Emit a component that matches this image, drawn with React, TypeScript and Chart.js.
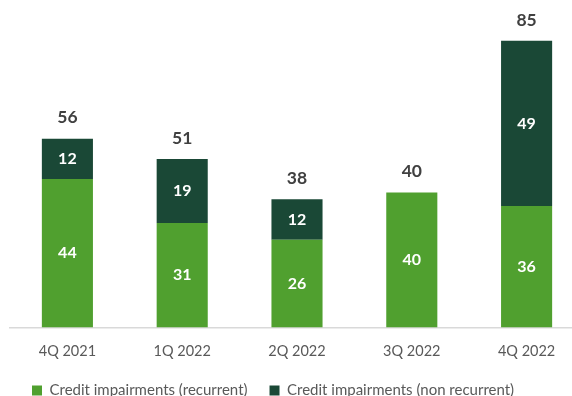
import React, { useEffect, useRef } from "react";
import { Chart, registerables } from "chart.js";

Chart.register(...registerables);

const categories = ["4Q 2021", "1Q 2022", "2Q 2022", "3Q 2022", "4Q 2022"];
const recurrent = [44, 31, 26, 40, 36];
const nonRecurrent = [12, 19, 12, 0, 49];
const totals = [56, 51, 38, 40, 85];
const seriesNames = ["Credit impairments (recurrent)", "Credit impairments (non recurrent)"];

const LIGHT = "#50A02F";
const DARK = "#1A4836";

const labelPlugin = {
  id: "barLabels",
  afterDatasetsDraw(chart: any) {
    const ctx = chart.ctx;
    const yScale = chart.scales.y;
    ctx.save();
    ctx.textAlign = "center";
    ctx.textBaseline = "middle";
    chart.data.datasets.forEach((ds: any, di: number) => {
      const meta = chart.getDatasetMeta(di);
      meta.data.forEach((el: any, i: number) => {
        const v = ds.data[i];
        if (!v) return;
        const props = el.getProps(["x", "y", "base"], true);
        ctx.fillStyle = "#FFFFFF";
        ctx.font = "bold 16px Lato";
        ctx.fillText(String(v), props.x, (props.y + props.base) / 2);
      });
    });
    const meta0 = chart.getDatasetMeta(0);
    totals.forEach((total, i) => {
      const x = meta0.data[i].x;
      const stackTop = yScale.getPixelForValue(recurrent[i] + nonRecurrent[i]);
      ctx.fillStyle = "#404040";
      ctx.font = "bold 17.5px Lato";
      ctx.fillText(String(total), x, stackTop - 21);
    });
    ctx.restore();
  },
};

export default function App() {
  const ref = useRef<HTMLCanvasElement | null>(null);
  useEffect(() => {
    document.body.style.margin = "0";
    Chart.defaults.font.family = "Lato";
    const chart = new Chart(ref.current as HTMLCanvasElement, {
      type: "bar",
      data: {
        labels: categories,
        datasets: [
          { label: seriesNames[0], data: recurrent, backgroundColor: LIGHT, stack: "s" },
          { label: seriesNames[1], data: nonRecurrent, backgroundColor: DARK, stack: "s" },
        ],
      },
      options: {
        animation: false,
        responsive: false,
        devicePixelRatio: 1,
        layout: { padding: { left: 10, right: 16, top: 24, bottom: 0 } },
        datasets: { bar: { categoryPercentage: 1, barPercentage: 0.445 } },
        plugins: {
          tooltip: { enabled: false },
          legend: {
            position: "bottom",
            align: "start",
            labels: {
              boxWidth: 10,
              boxHeight: 10,
              padding: 22,
              color: "#595959",
              font: { size: 15, family: "Lato" },
            },
          },
        },
        scales: {
          x: {
            stacked: true,
            grid: { display: false, drawTicks: false },
            border: { display: true, color: "#D9D9D9", width: 1.5 },
            ticks: { color: "#595959", font: { size: 14.5, family: "Lato" }, padding: 15.5 },
            afterFit: (scale: any) => {
              scale.height = 33.5;
            },
          },
          y: {
            stacked: true,
            display: false,
            min: 0,
            max: 90,
          },
        },
      },
      plugins: [labelPlugin],
    });
    return () => chart.destroy();
  }, []);
  return (
    <div style={{ position: "fixed", left: 0, top: 0, width: 572, height: 396, overflow: "hidden", background: "#fff" }}>
      <canvas ref={ref} width={600} height={408} style={{ width: 600, height: 408, display: "block" }} />
    </div>
  );
}
